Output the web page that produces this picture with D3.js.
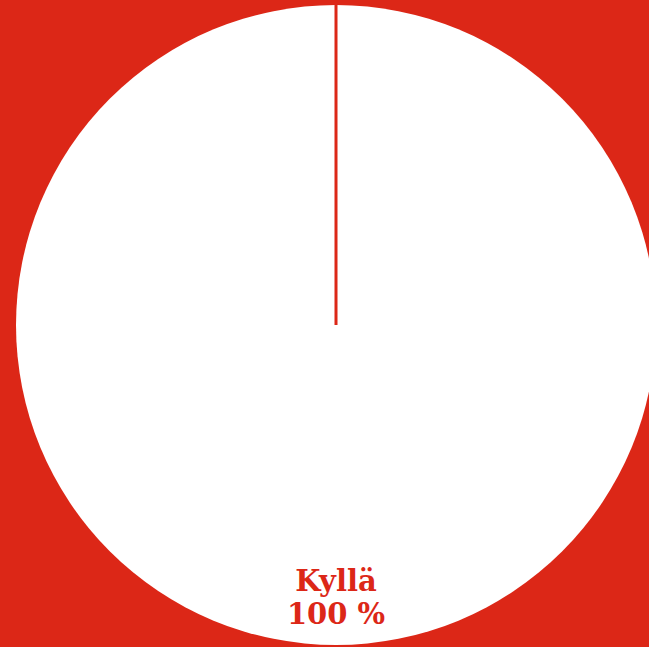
<!DOCTYPE html>
<html lang="fi">
<head>
<meta charset="UTF-8">
<script src="https://d3js.org/d3.v7.min.js"></script>
<title>Kyllä</title>
<style>
  html, body { margin: 0; padding: 0; background: #dc2717; overflow: hidden; }
</style>
</head>
<body>
<div id="chart"></div>
<script>
var categories = ["Kyllä"];
var values = [100];
var labels = ["100 %"];

var width = 649, height = 647;
var cx = 336, cy = 325, radius = 320;
var red = "#dc2717";

var svg = d3.select("#chart").append("svg")
    .attr("width", width)
    .attr("height", height)
    .style("display", "block");

svg.append("rect").attr("width", width).attr("height", height).attr("fill", red);

var g = svg.append("g").attr("transform", "translate(" + cx + "," + cy + ")");

var pie = d3.pie().sort(null).value(function (d) { return d; });
var arcs = pie(values);
var arc = d3.arc().innerRadius(0).outerRadius(radius);

g.selectAll("path.slice")
    .data(arcs)
    .enter().append("path")
    .attr("class", "slice")
    .attr("d", arc)
    .attr("fill", "#fff");

// slice boundary lines
g.selectAll("line.edge")
    .data(arcs)
    .enter().append("line")
    .attr("class", "edge")
    .attr("x1", 0).attr("y1", 0)
    .attr("x2", function (d) { return radius * Math.sin(d.startAngle); })
    .attr("y2", function (d) { return -radius * Math.cos(d.startAngle); })
    .attr("stroke", red)
    .attr("stroke-width", 3);

// labels near bottom of the slice
var labelR = radius * 0.86;
var txt = g.selectAll("text.lbl")
    .data(arcs)
    .enter().append("text")
    .attr("class", "lbl")
    .attr("text-anchor", "middle")
    .attr("fill", red)
    .style("font-family", "'DejaVu Serif', 'Liberation Serif', serif")
    .style("font-weight", "bold")
    .style("font-size", "29px");

txt.append("tspan")
    .attr("x", function (d) { var a = (d.startAngle + d.endAngle) / 2; return labelR * Math.sin(a); })
    .attr("y", function (d) { var a = (d.startAngle + d.endAngle) / 2; return -labelR * Math.cos(a) - 9; })
    .text(function (d, i) { return categories[i]; });

txt.append("tspan")
    .attr("x", function (d) { var a = (d.startAngle + d.endAngle) / 2; return labelR * Math.sin(a); })
    .attr("dy", 33)
    .text(function (d, i) { return labels[i]; });
</script>
</body>
</html>
